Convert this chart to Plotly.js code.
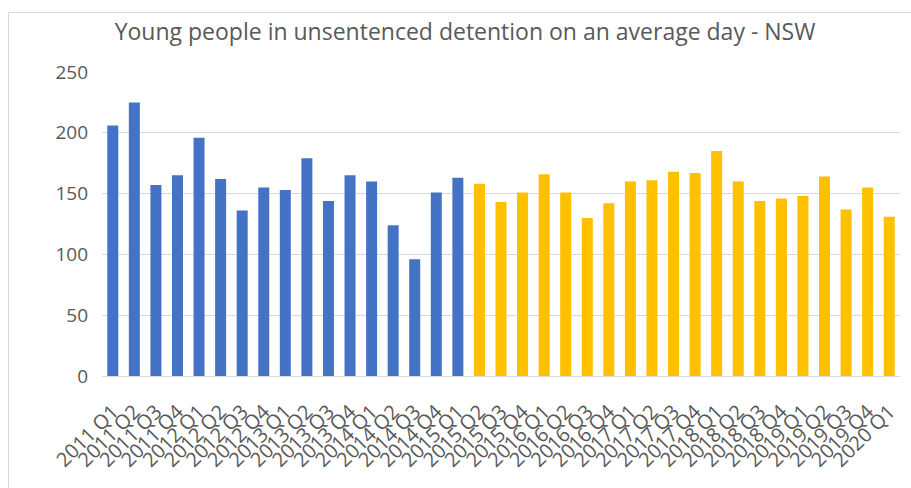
<!DOCTYPE html>
<html>
<head>
<meta charset="utf-8">
<script src="https://cdn.plot.ly/plotly-3.0.1.min.js"></script>
<style>html,body{margin:0;padding:0;background:#fff;}#chart{width:911px;height:488px;}</style>
</head>
<body>
<div id="chart"></div>
<script>
const blueCategories = ["2011 Q1","2011 Q2","2011 Q3","2011 Q4","2012 Q1","2012 Q2","2012 Q3","2012 Q4","2013 Q1","2013 Q2","2013 Q3","2013 Q4","2014 Q1","2014 Q2","2014 Q3","2014 Q4","2015 Q1"];
const blueValues = [206,225,157,165,196,162,136,155,153,179,144,165,160,124,96,151,163];
const yellowCategories = ["2015 Q2","2015 Q3","2015 Q4","2016 Q1","2016 Q2","2016 Q3","2016 Q4","2017 Q1","2017 Q2","2017 Q3","2017 Q4","2018 Q1","2018 Q2","2018 Q3","2018 Q4","2019 Q1","2019 Q2","2019 Q3","2019 Q4","2020 Q1"];
const yellowValues = [158,143,151,166,151,130,142,160,161,168,167,185,160,144,146,148,164,137,155,131];
const yTicks = [0,50,100,150,200,250];
const titleText = "Young people in unsentenced detention on an average day - NSW";

const fontFam = "Open Sans, sans-serif";
const gray = "#595959";
const allCategories = blueCategories.concat(yellowCategories);

const traces = [
  {type:"bar", x:blueCategories, y:blueValues, marker:{color:"#4472C4"}, hoverinfo:"x+y", showlegend:false},
  {type:"bar", x:yellowCategories, y:yellowValues, marker:{color:"#FFC000"}, hoverinfo:"x+y", showlegend:false}
];

const layout = {
  width:911, height:488,
  margin:{l:102, r:11, t:72, b:112, pad:0},
  paper_bgcolor:"#fff", plot_bgcolor:"#fff",
  barmode:"overlay", bargap:0.49,
  title:{text:titleText, font:{family:fontFam, size:23, color:gray}, x:0.5105, xanchor:"center", y:0.935, yanchor:"middle"},
  xaxis:{type:"category", categoryorder:"array", categoryarray:allCategories,
    tickmode:"array", tickvals:allCategories, ticktext:allCategories,
    tickangle:-45, tickfont:{family:fontFam, size:20, color:gray}, showgrid:false,
    showline:true, linecolor:"#d9d9d9", linewidth:1, ticks:"", automargin:false, ticklabelstandoff:15},
  yaxis:{range:[0,250], tickvals:yTicks, ticktext:yTicks.map(String), tickfont:{family:fontFam, size:19, color:gray},
    showgrid:true, gridcolor:"#d9d9d9", gridwidth:1, zeroline:true, zerolinecolor:"#d9d9d9", ticks:"", ticklen:0,
    showline:false, automargin:false, ticklabelstandoff:13},
  shapes:[{type:"rect", xref:"paper", yref:"paper",
    x0:(8.5-102)/798, x1:(940-102)/798, y0:(376-520)/304, y1:(376-12.5)/304,
    line:{color:"#d9d9d9", width:1}, fillcolor:"rgba(0,0,0,0)", layer:"below"}]
};

Plotly.newPlot("chart", traces, layout, {displayModeBar:false, staticPlot:true});
</script>
</body>
</html>
